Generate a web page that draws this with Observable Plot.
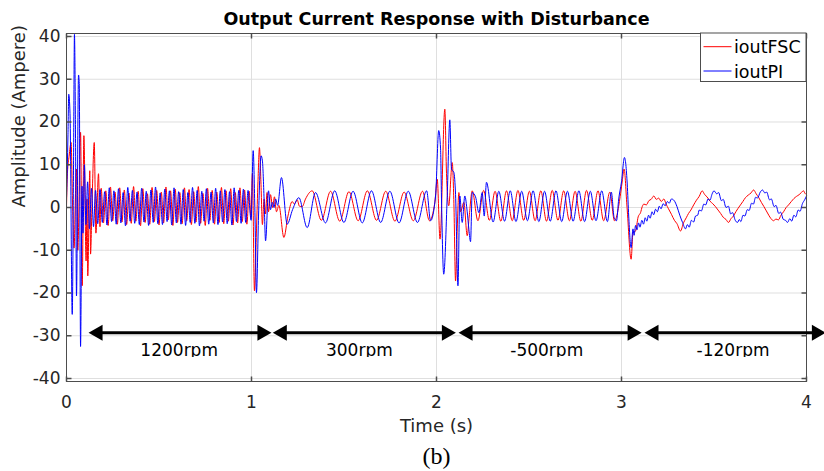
<!DOCTYPE html>
<html><head><meta charset="utf-8">
<script src="https://cdn.jsdelivr.net/npm/d3@7"></script>
<script src="https://cdn.jsdelivr.net/npm/@observablehq/plot@0.6"></script>
<style>
html,body{margin:0;padding:0;background:#fff;}
#chart svg{display:block;}
</style></head><body><div id="chart"></div>
<script>
// ---------- data ----------
const xTicks = [0, 1, 2, 3, 4];
const xTickLabels = ["0", "1", "2", "3", "4"];
const yTicks = [-40, -30, -20, -10, 0, 10, 20, 30, 40];
const yTickLabels = ["-40", "-30", "-20", "-10", "0", "10", "20", "30", "40"];
const legendNames = ["ioutFSC", "ioutPI"];

// ioutFSC (red): [time s, current A]
const fscStart = [[0,0],[0.005,8],[0.014,12],[0.025,15.2],[0.032,2],[0.041,-9.5],[0.049,4],[0.054,9],[0.061,-10],[0.076,17.6],[0.085,-18.3],[0.094,16.8],[0.106,-12.5],[0.111,2],[0.115,-16],[0.126,8.6],[0.130,-10.9],[0.138,1],[0.150,15.2],[0.159,-6],[0.173,7.9],[0.181,-4.5]];
// 1200 rpm ripple extrema, every half period starting at FSC_T1
const FSC_T1 = 0.1875, DT1 = 0.0125;
const fscSteady1 = [4.5,-3.6,3.9,-4.2,4.8,-3.1,3.6,-3.9,4.6,-3.4,4.1,-4.0,3.4,-3.7,4.9,-3.2,3.8,-4.3,4.4,-3.5,3.2,-3.9,4.7,-3.3,4.0,-4.1,3.6,-3.6,4.8,-2.9,3.9,-4.2,4.3,-3.5,3.5,-3.8,4.6,-3.1,4.2,-4.0,3.7,-3.4,4.9,-3.7,3.3,-4.2,4.5,-3.0,4.0,-3.9,3.6,-3.5,4.7,-3.8,3.9,-3.2,4.4,-4.1,3.5,-3.6,4.6,-3.3,4.1,-3.9,3.8];
const fscShift1 = [[0.997,-2.5],[1.005,8],[1.016,-19.5],[1.027,-5],[1.035,6],[1.043,14],[1.051,6],[1.059,-4],[1.068,2],[1.076,-1.5],[1.084,3.5],[1.092,-1],[1.103,3],[1.114,0],[1.124,2.5],[1.135,-1],[1.148,0.5],[1.175,-7],[1.197,-2],[1.220,1.4],[1.232,0.8],[1.247,1.8],[1.259,0.3],[1.274,0.2],[1.292,2.0]];
const FSC_T2 = 1.328, DT2 = 0.0497;
const fscSteady2 = [3.9,-3.0,3.8,-3.2,3.7,-3.1,3.9,-3.0,3.8,-3.2,3.6,-3.1,3.8];
const fscShift2 = [[1.962,-3.1],[1.991,1.2],[2.004,6.6],[2.019,-7.4],[2.045,23],[2.054,8],[2.066,0.4],[2.085,10.5],[2.094,1],[2.103,-17.2],[2.112,-5],[2.121,3.5],[2.130,-1],[2.148,1.2],[2.166,-6.6],[2.177,-2]];
const FSC_T3 = 2.193, DT3 = 0.0309;
const fscSteady3 = [3.9,-3.1,4.0,-3.0,3.8,-3.2,3.9,-3.1,4.0,-3.0,3.8,-3.1,3.9,-3.2,4.0,-3.0,3.9,-3.1,3.8,-3.2,4.0,-3.0,3.9,-3.1];
const fscTail = [[2.937,3.6],[2.962,-3.1],[2.995,3.2],[3.005,6.5],[3.014,9],[3.030,0],[3.052,-12.1],[3.062,-6],[3.076,-5.5],[3.090,-2.2],[3.103,-1.2],[3.112,0.2],[3.121,0.8],[3.134,0.6],[3.148,1.6],[3.160,1.9],[3.175,2.7],[3.188,1.9],[3.201,2.2],[3.215,1.4],[3.229,2.0],[3.241,0.8],[3.254,-0.3],[3.270,-1.6],[3.286,-3.0],[3.300,-3.8],[3.319,-5.5],[3.335,-3.6],[3.350,-2.4],[3.362,-1.4],[3.375,-0.6],[3.390,0.6],[3.405,1.7],[3.420,2.6],[3.436,3.9],[3.450,3.0],[3.462,2.5],[3.478,1.5],[3.493,0.9],[3.508,0.2],[3.522,-0.6],[3.536,-1.4],[3.550,-2.3],[3.565,-2.8],[3.578,-3.5],[3.592,-2.6],[3.605,-2.0],[3.618,-1.0],[3.630,-0.2],[3.643,0.6],[3.656,1.4],[3.670,2.3],[3.685,2.9],[3.700,3.4],[3.714,4.1],[3.728,3.2],[3.742,2.3],[3.756,1.2],[3.770,0.2],[3.783,-0.8],[3.796,-1.8],[3.808,-2.6],[3.822,-3.1],[3.835,-2.7],[3.848,-2.9],[3.862,-1.8],[3.876,-1.0],[3.890,0.0],[3.903,0.6],[3.918,1.4],[3.932,2.1],[3.946,2.6],[3.960,3.0],[3.972,3.5],[3.984,3.9],[3.992,3.3],[4.0,3.0]];

// ioutPI (blue)
const piStart = [[0,2],[0.008,17],[0.012,26.5],[0.019,22],[0.031,-25],[0.038,10],[0.043,40.5],[0.049,15],[0.054,-20.7],[0.065,31],[0.069,29],[0.076,-32.5],[0.084,5],[0.089,-6],[0.097,10],[0.105,-4],[0.114,6],[0.124,-5],[0.135,4.5],[0.146,-4.5],[0.157,4.0]];
const PI_T1 = 0.16875;
const piSteady1 = [-3.8,4.2,-3.5,3.7,-4.1,4.6,-3.3,3.9,-3.9,4.4,-3.6,3.5,-4.3,4.7,-3.2,4.0,-3.7,3.6,-4.0,4.5,-3.4,3.8,-4.2,4.1,-3.5,4.8,-3.8,3.4,-4.0,4.3,-3.3,3.9,-4.1,4.6,-3.6,3.7,-3.9,4.2,-4.2,3.5,-3.5,4.7,-3.7,4.0,-4.3,3.8,-3.2,4.4,-3.9,3.6,-3.6,4.5,-4.0,3.9,-3.4,4.2,-3.8,3.7,-4.1,4.6,-3.3,4.0,-3.7,4.3,-3.5,4.0];
const piShift1 = [[0.998,-3],[1.009,13.3],[1.018,0],[1.027,-19.9],[1.038,-2],[1.052,12.1],[1.059,10.9],[1.068,2],[1.076,-7.8],[1.092,3.9],[1.103,-0.5],[1.112,1.2],[1.122,0],[1.130,2],[1.141,0.5],[1.162,7.0],[1.193,-3.9],[1.222,-0.5],[1.256,2.3],[1.301,-4.7],[1.346,3.5]];
const PI_T2 = 1.400;
const piSteady2 = [-3.6,3.9,-3.5,3.8,-3.6,3.9,-3.5,3.8,-3.6,3.8,-3.5,3.9];
const piShift2 = [[1.968,-3.1],[1.995,2.7],[2.012,18],[2.022,13.7],[2.027,2],[2.039,-15.6],[2.058,2.7],[2.072,20.5],[2.081,9],[2.094,8.2],[2.103,3],[2.116,-18.3],[2.126,2.7],[2.139,-3.5],[2.153,2.7],[2.166,-1],[2.175,-5.1],[2.184,-8],[2.193,3.5],[2.211,2.5],[2.229,-1.2],[2.247,3.5],[2.258,-2],[2.270,5.9]];
const PI_T3 = 2.306;
const piSteady3 = [-3.4,3.8,-3.2,3.9,-3.3,3.8,-3.1,3.9,-3.3,3.8,-3.2,3.9,-3.3,3.8,-3.2,3.9,-3.3,3.8,-3.1,3.9,-3.3];
const piTail = [[2.945,3.6],[2.960,-2.3],[2.973,-3.1],[2.985,2],[3.000,6],[3.016,11.7],[3.031,5.5],[3.039,-2],[3.052,-9.4],[3.062,-5],[3.068,-6.5],[3.076,-4.2],[3.084,-5.2],[3.092,-3.6],[3.100,-4.6],[3.110,-3.0],[3.119,-3.9],[3.128,-2.4],[3.137,-3.2],[3.146,-1.8],[3.155,-2.5],[3.165,-1.0],[3.174,-1.7],[3.184,-0.4],[3.194,-1.0],[3.204,0.3],[3.214,-0.3],[3.225,0.9],[3.236,0.4],[3.248,1.4],[3.258,1.0],[3.270,2.0],[3.285,1.6],[3.300,0.2],[3.315,-1.8],[3.330,-3.5],[3.346,-5.0],[3.356,-4.0],[3.366,-4.6],[3.378,-3.0],[3.390,-3.4],[3.400,-2.0],[3.412,-1.8],[3.420,-0.6],[3.432,-0.8],[3.445,0.8],[3.455,0.6],[3.468,2.0],[3.478,1.7],[3.490,3.2],[3.500,3.9],[3.515,3.2],[3.525,3.5],[3.540,1.6],[3.550,1.9],[3.565,0.0],[3.578,0.3],[3.590,-1.5],[3.600,-1.2],[3.615,-3.0],[3.627,-3.5],[3.637,-2.8],[3.645,-3.3],[3.657,-1.8],[3.667,-2.0],[3.680,-0.5],[3.690,-0.7],[3.703,1.0],[3.713,0.8],[3.725,2.4],[3.735,2.2],[3.750,3.6],[3.762,4.1],[3.775,3.4],[3.785,3.6],[3.800,1.8],[3.810,2.0],[3.825,0.2],[3.835,0.5],[3.850,-1.4],[3.860,-1.1],[3.875,-2.8],[3.887,-3.0],[3.897,-3.5],[3.910,-2.6],[3.920,-3.2],[3.932,-1.8],[3.942,-2.2],[3.955,-0.6],[3.965,-0.9],[3.978,0.9],[3.990,1.8],[4.0,2.7]];

// speed segment annotations
const arrowStart = [0.121, 1.117, 2.121, 3.126];
const arrowEnd = [1.106, 2.103, 3.107, 4.103];
const arrowLabels = ["1200rpm", "300rpm", "-500rpm", "-120rpm"];
const arrowLabelX = [0.609, 1.583, 2.596, 3.603];
const ARROW_Y = -29.3;
const LABEL_Y = -34.75;

// ---------- build ----------
function seq(t0, dt, vals) { return vals.map((v, i) => [t0 + i * dt, v]); }
function rows(parts) {
  return parts.flat().sort((a, b) => a[0] - b[0]).map(([t, v]) => ({t, v}));
}
const fscRows = rows([fscStart, seq(FSC_T1, DT1, fscSteady1), fscShift1, seq(FSC_T2, DT2, fscSteady2), fscShift2, seq(FSC_T3, DT3, fscSteady3), fscTail]);
const piRows = rows([piStart, seq(PI_T1, DT1, piSteady1), piShift1, seq(PI_T2, DT2, piSteady2), piShift2, seq(PI_T3, DT3, piSteady3), piTail]);

const FONT = "'DejaVu Sans', sans-serif";
const RED = "#ff0000", BLUE = "#0000ff", AX = "#4d4d4d", GRID = "#dfdfdf";
const idx = arrowLabels.map((_, i) => i);
const tk = (dx, dy) => ({draw(ctx) { ctx.moveTo(0, 0); ctx.lineTo(dx, dy); }});

const chart = Plot.plot({
  width: 824, height: 471,
  marginTop: 33, marginBottom: 90, marginLeft: 66, marginRight: 18,
  style: {fontFamily: FONT, fontSize: "17px", color: "#262626", background: "#fff", overflow: "visible"},
  x: {domain: [0, 4]},
  y: {domain: [-40.7, 40.7]},
  marks: [
    Plot.gridX(xTicks, {stroke: GRID, strokeOpacity: 1}),
    Plot.gridY(yTicks, {stroke: GRID, strokeOpacity: 1}),
    Plot.line(fscRows, {x: "t", y: "v", stroke: RED, strokeWidth: 1, curve: "monotone-x"}),
    Plot.line(piRows, {x: "t", y: "v", stroke: BLUE, strokeWidth: 1, curve: "monotone-x"}),
    Plot.frame({stroke: AX}),
    Plot.dot(xTicks, {x: d => d, frameAnchor: "bottom", symbol: tk(0, -5), r: 3, stroke: AX, fill: "none"}),
    Plot.dot(xTicks, {x: d => d, frameAnchor: "top", symbol: tk(0, 5), r: 3, stroke: AX, fill: "none"}),
    Plot.dot(yTicks, {y: d => d, frameAnchor: "left", symbol: tk(5, 0), r: 3, stroke: AX, fill: "none"}),
    Plot.dot(yTicks, {y: d => d, frameAnchor: "right", symbol: tk(-5, 0), r: 3, stroke: AX, fill: "none"}),
    Plot.axisX(xTicks, {tickSize: 0, tickPadding: 14, tickFormat: d => xTickLabels[xTicks.indexOf(d)], label: null, fontSize: 17}),
    Plot.axisY(yTicks, {tickSize: 0, tickPadding: 6, tickFormat: d => yTickLabels[yTicks.indexOf(d)], label: null, fontSize: 17}),
    Plot.arrow(idx, {x1: i => arrowStart[i], x2: i => arrowEnd[i], y1: () => ARROW_Y, y2: () => ARROW_Y,
      headLength: 0, insetStart: 10, insetEnd: 10, strokeWidth: 3, stroke: "#000"}),
    Plot.dot(idx, {x: i => arrowEnd[i], y: () => ARROW_Y, symbol: "triangle", rotate: 90, r: 6, fill: "#000", stroke: "none", dx: -9}),
    Plot.dot(idx, {x: i => arrowStart[i], y: () => ARROW_Y, symbol: "triangle", rotate: -90, r: 6, fill: "#000", stroke: "none", dx: 9}),
    Plot.text(idx, {x: i => arrowLabelX[i], y: () => LABEL_Y, text: i => arrowLabels[i], lineAnchor: "bottom", fontSize: 17, fill: "#000"}),
    Plot.text(["Output Current Response with Disturbance"], {frameAnchor: "top", dy: -9, lineAnchor: "bottom", fontWeight: "bold", fontSize: 17.5, fill: "#000"}),
    Plot.text(["Time (s)"], {frameAnchor: "bottom", dy: 50, lineAnchor: "bottom", fontSize: 18, fill: "#262626"}),
    Plot.text(["Amplitude (Ampere)"], {frameAnchor: "left", dx: -42, rotate: -90, lineAnchor: "bottom", fontSize: 18, fill: "#262626"}),
    Plot.text(["(b)"], {frameAnchor: "bottom", dy: 82, lineAnchor: "bottom", fontFamily: "'Liberation Serif', serif", fontSize: 24, fill: "#000"})
  ]
});

document.getElementById("chart").append(chart);

// clip the speed labels just below their baseline, as in the reference
const svg = d3.select(chart);
const xs = chart.scale("x"), ys = chart.scale("y");
const lbl = svg.selectAll("text").filter(function() { return arrowLabels.includes(this.textContent); });
if (!lbl.empty()) {
  const defs = svg.append("defs");
  defs.append("clipPath").attr("id", "lblclip").attr("clipPathUnits", "userSpaceOnUse").append("rect")
    .attr("x", 0).attr("y", 0).attr("width", 824).attr("height", ys.apply(LABEL_Y) + 1);
  d3.select(lbl.node().parentNode).attr("clip-path", "url(#lblclip)");
}

// legend box inside the top-right corner of the axes
const fr = xs.apply(4), ft = ys.apply(40.7);
const lg = svg.append("g").attr("font-family", FONT).attr("font-size", 17.5).attr("text-anchor", "start");
lg.append("rect").attr("x", fr - 105.5).attr("y", ft).attr("width", 105.5).attr("height", 48.5)
  .attr("fill", "#fff").attr("stroke", AX);
[RED, BLUE].forEach((c, i) => {
  const y = ft + 13.7 + i * 24.3;
  lg.append("line").attr("x1", fr - 102.5).attr("x2", fr - 74.5).attr("y1", y).attr("y2", y)
    .attr("stroke", c).attr("stroke-width", 1);
  lg.append("text").attr("x", fr - 72).attr("y", y + 6.5).attr("fill", "#000")
    .attr("text-anchor", "start").text(legendNames[i]);
});
</script>
</body></html>
